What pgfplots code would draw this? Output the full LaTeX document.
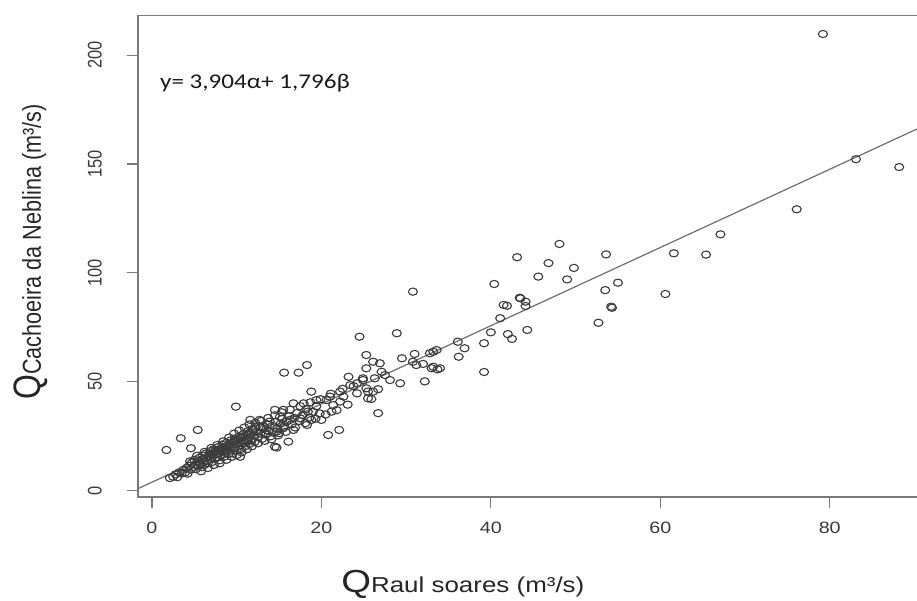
\documentclass[border=0pt]{standalone}
\usepackage{fontspec}
\setmainfont{Liberation Sans}
\newfontfamily\carlito{Carlito}
\usepackage{pgfplots}
\pgfplotsset{compat=1.18}
\definecolor{axisgray}{HTML}{7A7A7A}
\definecolor{markgray}{HTML}{3C3C3C}
\definecolor{linegray}{HTML}{6E6E6E}
\definecolor{labelgray}{HTML}{3A3A3A}

\begin{document}
\begin{tikzpicture}
\begin{axis}[
  scale only axis,
  width=779bp, height=481.3bp,
  xmin=-1.65, xmax=90.3,
  ymin=-2.9, ymax=218.1,
  clip=false,
  xtick={0,20,40,60,80},
  ytick={0,50,100,150,200},
  xtick pos=left, ytick pos=left,
  tick align=outside,
  major tick length=11bp,
  tick style={axisgray, line width=1.2bp},
  axis line style={draw=none},
  /pgf/number format/assume math mode=true,
  ticklabel style={font=\fontsize{16.5}{18}\selectfont, text=labelgray, inner sep=0pt},
  xticklabel style={xscale=1.2, anchor=north},
  yticklabel style={xscale=1.2, rotate=90, anchor=south},
  xticklabel shift=14bp,
  yticklabel shift=25bp,
  every axis x label/.style={at={(rel axis cs:0.417,0)}, yshift=-95bp, xscale=1.2, anchor=base, text=black!85},
  every axis y label/.style={at={(rel axis cs:0,0.509)}, xshift=-97bp, xscale=1.2, rotate=90, anchor=base, text=black!85},
  xlabel={{\fontsize{32}{34}\selectfont Q}{\fontsize{21.7}{24}\selectfont Raul soares (m³/s)}},
  ylabel={{\fontsize{32}{34}\selectfont Q}{\fontsize{21.7}{24}\selectfont Cachoeira da Neblina (m³/s)}},
]
% box: left, top, bottom (right side cut off)
\draw[axisgray, line width=1.3bp] (rel axis cs:1,0) -- (rel axis cs:0,0) -- (rel axis cs:0,1) -- (rel axis cs:1,1);

% fitted line
\addplot[linegray, line width=1.2bp] coordinates {(-1.65,0.94) (90.3,166.08)};

% observations
\addplot[only marks, mark=o, mark size=3.6bp,
  mark options={markgray, line width=1.1bp, xscale=1.25}] coordinates {
(79.2,209.7) (83.1,152.2) (88.2,148.6) (76.1,129.2) (67.1,117.7) (61.6,109.0)
(65.4,108.4) (60.6,90.3) (53.6,108.5) (55.0,95.5) (53.5,92.1) (48.1,113.3)
(43.1,107.2) (46.8,104.5) (49.8,102.3) (45.6,98.3) (49.0,97.0) (40.4,94.9)
(30.8,91.4) (43.4,88.6) (54.2,84.5) (54.3,84.0) (52.7,77.1) (44.3,73.8)
(42.0,71.9) (42.5,69.7) (40.0,72.7) (41.1,79.2) (39.2,67.7) (39.2,54.5)
(36.9,65.4) (36.1,68.4) (36.2,61.5) (33.7,55.7) (32.2,50.2) (33.2,63.8)
(31.0,62.8) (31.2,57.7) (33.0,56.2) (41.5,85.3) (41.9,84.9) (43.5,88.3)
(44.1,86.8) (44.1,84.8) (29.3,49.3) (28.9,72.3) (24.5,70.7) (25.3,62.3)
(26.1,59.2) (26.9,58.5) (25.3,56.2) (27.1,54.6) (26.3,51.6) (27.5,53.1)
(28.1,50.8) (24.9,50.8) (25.3,47.0) (26.7,46.6) (25.9,42.1) (29.5,60.8)
(30.8,59.2) (32.0,58.2) (32.8,63.1) (33.6,64.6) (33.2,56.9) (34.0,56.2)
(26.1,45.5) (26.7,35.6) (15.6,54.2) (17.3,54.2) (18.3,57.7) (23.2,52.3)
(24.2,49.3) (24.9,51.6) (18.8,45.5) (22.2,45.5) (19.4,41.6) (20.6,41.6)
(16.7,40.1) (17.9,40.1) (15.5,37.1) (14.5,37.1) (18.4,36.3) (21.4,39.3)
(22.2,40.9) (21.2,36.3) (19.8,35.5) (17.5,33.2) (16.3,32.5) (15.1,34.0)
(18.8,32.5) (20.0,32.5) (13.9,31.7) (12.7,32.5) (18.3,30.2) (13.1,29.4)
(15.5,28.7) (12.2,29.4) (20.8,25.6) (22.1,27.9) (14.5,20.2) (16.1,22.5)
(13.5,26.3) (14.7,27.1) (16.7,27.9) (25.5,45.5) (25.5,42.4) (23.4,48.5)
(24.2,44.7) (22.6,43.2) (21.0,43.2) (9.9,38.6) (5.4,27.9) (3.4,24.1)
(1.7,18.7) (4.6,19.5) (10.4,15.6) (11.6,32.5) (14.7,19.8)
(2.1,5.8) (2.5,6.4) (2.8,7.5) (3.0,6.2) (3.2,8.4) (3.5,7.9) (3.7,9.6)
(3.9,8.3) (4.1,10.5) (4.2,7.8) (4.4,11.4) (4.6,9.7) (4.7,12.8) (4.9,10.9)
(5.0,14.2) (5.1,12.0) (5.2,9.9) (5.4,13.6) (5.5,11.3) (5.6,15.1) (5.7,12.4)
(5.8,14.0) (5.9,10.8) (6.0,16.2) (6.1,13.1) (6.2,11.9) (6.3,15.0) (6.4,17.1)
(6.5,13.9) (6.6,12.6) (6.7,16.0) (6.8,14.7) (6.9,18.2) (7.0,15.5) (7.1,13.2)
(7.2,17.0) (7.3,19.1) (7.4,14.6) (7.5,16.6) (7.6,18.0) (7.7,15.2) (7.8,20.0)
(7.9,17.4) (8.0,14.0) (8.1,19.0) (8.2,16.3) (8.3,21.2) (8.4,18.1) (8.5,15.6)
(8.6,20.2) (8.7,17.3) (8.8,22.0) (8.9,19.2) (9.0,16.8) (9.1,21.0) (9.2,18.5)
(9.3,23.1) (9.4,20.1) (9.5,17.2) (9.6,22.4) (9.7,19.6) (9.8,24.0) (9.9,21.3)
(10.0,18.4) (10.1,23.2) (10.2,20.6) (10.3,25.0) (10.4,22.1) (10.5,19.2)
(10.6,24.3) (10.7,21.8) (10.8,26.0) (10.9,23.0) (11.0,20.5) (11.1,25.2)
(11.2,22.6) (11.3,27.2) (11.4,24.0) (11.5,21.5) (11.6,26.2) (11.8,23.4)
(11.9,28.3) (12.0,25.4) (12.1,22.4) (12.3,27.0) (12.5,24.6) (12.6,29.5)
(12.8,26.2) (13.0,23.8) (13.2,28.4) (13.4,25.8) (13.6,30.5) (13.8,27.4)
(14.0,25.0) (14.2,29.8) (14.4,27.0) (14.6,31.6) (14.8,28.6) (15.0,26.4)
(15.2,30.8) (15.4,33.0) (15.6,29.4) (15.9,31.8) (16.2,34.2) (16.5,30.5)
(16.8,33.4) (17.1,35.6) (17.4,32.0) (17.8,34.8) (18.2,37.5) (18.6,33.6)
(19.0,36.2) (19.4,38.8)
(4.5,13.5) (5.3,16.0) (5.8,8.9) (6.2,17.8) (6.6,10.4) (7.0,19.6) (7.3,11.8)
(7.7,21.0) (8.0,12.6) (8.4,22.6) (8.8,14.2) (9.1,24.4) (9.4,15.5) (9.7,26.2)
(10.0,16.4) (10.3,27.6) (10.6,17.6) (10.9,29.0) (11.2,19.0) (11.5,30.4)
(11.8,20.4) (12.2,31.2) (12.5,21.8) (12.9,32.0) (13.3,22.9) (13.7,33.4)
(14.1,23.6) (14.5,34.6) (14.9,25.4) (15.3,36.0) (15.8,27.0) (16.3,37.2)
(16.9,29.0) (17.5,38.8) (18.1,31.0) (18.7,40.6) (19.3,33.0) (19.9,42.0)
(20.5,35.0) (21.1,44.5) (21.8,37.0) (22.5,46.8) (23.1,39.5) (23.8,48.0)
(6.0,14.5) (6.8,16.8) (7.5,18.6) (8.3,19.4) (9.0,20.5) (9.8,22.8)
(10.5,24.2) (11.3,25.6) (12.0,27.8) (12.8,29.2)
};

\node[anchor=base west, inner sep=0pt, xscale=1.2, text=black!90,
  font=\carlito\fontsize{21}{24}\selectfont] at (axis cs:0.94,184.8) {y= 3,904α+ 1,796β};
\end{axis}
\pgfresetboundingbox
\path[use as bounding box] (-138bp,-104bp) rectangle (779bp,497bp);
\end{tikzpicture}
\end{document}
